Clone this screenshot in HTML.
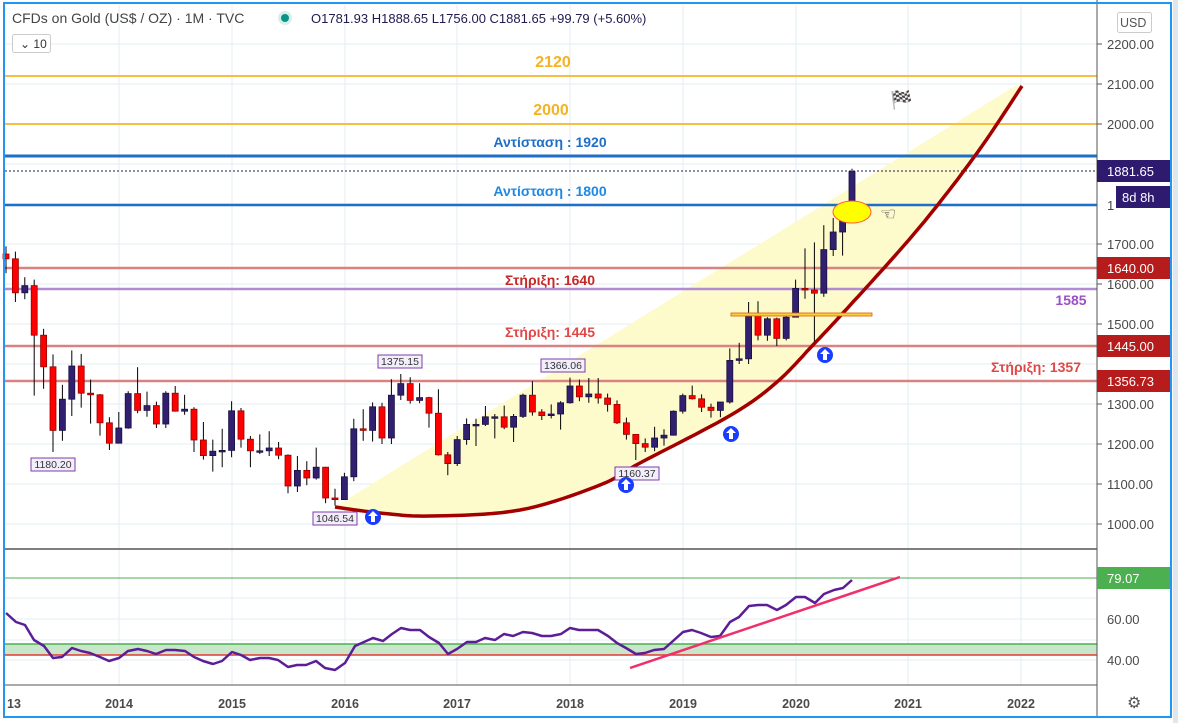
<!DOCTYPE html>
<html><head><meta charset="utf-8"><style>
html,body{margin:0;padding:0;background:#fff;width:1178px;height:723px;overflow:hidden}
svg{display:block;font-family:"Liberation Sans",sans-serif}
</style></head><body>
<svg id="s" width="1178" height="723" viewBox="0 0 1178 723" xmlns="http://www.w3.org/2000/svg">
<rect x="0" y="0" width="1178" height="723" fill="#fff"/>
<g id="grid" stroke="#e3edf3" stroke-width="1"></g>
<polygon id="fill" fill="#fdfacb"/>
<g id="hl"></g>
<g id="candles"></g>
<polyline id="arc" fill="none" stroke="#a30000" stroke-width="3.5" stroke-linejoin="round"/>
<rect x="731" y="313" width="141" height="3" fill="#f7d23a" stroke="#e05a00" stroke-width="0.8"/>
<ellipse cx="852" cy="212" rx="19" ry="11" fill="#ffff00" stroke="#ff5a3a" stroke-width="1"/>
<g id="top"></g>
<line x1="5" y1="549" x2="1097" y2="549" stroke="#555" stroke-width="1.5"/>
<rect x="5" y="644" width="1092" height="11" fill="#c8e6c9"/>
<line x1="5" y1="644" x2="1097" y2="644" stroke="#4caf50" stroke-width="1.5"/>
<line x1="5" y1="655" x2="1097" y2="655" stroke="#e53935" stroke-width="1.5"/>
<line x1="5" y1="578" x2="1097" y2="578" stroke="#4caf50" stroke-width="1"/>
<line x1="5" y1="685" x2="1097" y2="685" stroke="#555" stroke-width="1"/>
<polyline id="rsi" fill="none" stroke="#5b1e96" stroke-width="2.5" stroke-linejoin="round"/>
<line x1="630" y1="668" x2="900" y2="577" stroke="#f0306a" stroke-width="2.5"/>
<line x1="1097" y1="0" x2="1097" y2="717" stroke="#555" stroke-width="1"/>
<g id="axis" font-size="13" fill="#4a4a4a"></g>
<rect x="4" y="3" width="1167" height="714" fill="none" stroke="#2196f3" stroke-width="2"/>
<rect x="1173" y="0" width="5" height="723" fill="#dfe6ec"/>
<text x="12" y="23" font-size="14" fill="#444">CFDs on Gold (US$ / OZ) · 1M · TVC</text>
<circle cx="285" cy="18" r="7" fill="#d6efec"/><circle cx="285" cy="18" r="4" fill="#0b9484"/>
<text x="311" y="23" font-size="13" fill="#1f1a4f">O1781.93  H1888.65  L1756.00  C1881.65  +99.79 (+5.60%)</text>
<rect x="12.5" y="34.5" width="38" height="18" rx="2" fill="#fff" stroke="#ccc"/>
<text x="20" y="48" font-size="12" fill="#333">⌄ 10</text>
<rect x="1117.5" y="12.5" width="34" height="20" rx="2" fill="#fff" stroke="#ccc"/>
<text x="1120" y="27" font-size="12.5" fill="#555">USD</text>
<text x="1127" y="708" font-size="16" fill="#555">⚙</text>
</svg>
<script>
const NS="http://www.w3.org/2000/svg";
function el(p,t,a,txt){const e=document.createElementNS(NS,t);for(const k in a)e.setAttribute(k,a[k]);if(txt!==undefined)e.textContent=txt;document.getElementById(p).appendChild(e);return e;}
const Y=p=>524-(p-1000)*0.4, X=m=>6+m*9.4;
const K=[[335,507],[380,513],[430,516],[520,510],[600,485],[640,463],[731,415],[777,382],[813,345],[843,313],[900,250],[940,202],[982,146],[1022,86]];
let A=[];
for(let i=0;i<K.length-1;i++){const p0=K[Math.max(0,i-1)],p1=K[i],p2=K[i+1],p3=K[Math.min(K.length-1,i+2)];
for(let t=0;t<1;t+=0.1){const t2=t*t,t3=t2*t;
A.push([0.5*((2*p1[0])+(-p0[0]+p2[0])*t+(2*p0[0]-5*p1[0]+4*p2[0]-p3[0])*t2+(-p0[0]+3*p1[0]-3*p2[0]+p3[0])*t3),
0.5*((2*p1[1])+(-p0[1]+p2[1])*t+(2*p0[1]-5*p1[1]+4*p2[1]-p3[1])*t2+(-p0[1]+3*p1[1]-3*p2[1]+p3[1])*t3)]);}}
A.push(K[K.length-1]);
document.getElementById("arc").setAttribute("points",A.map(p=>p[0].toFixed(1)+","+p[1].toFixed(1)).join(" "));
document.getElementById("fill").setAttribute("points","338,505 1015,86 "+A.slice().reverse().map(p=>p[0].toFixed(1)+","+p[1].toFixed(1)).join(" "));
for(let p=1000;p<=2200;p+=100)el("grid","line",{x1:5,x2:1097,y1:Y(p),y2:Y(p)});
[619,660,598,640].forEach(y=>el("grid","line",{x1:5,x2:1097,y1:y,y2:y}));
const yrs=[[119,"2014"],[232,"2015"],[345,"2016"],[457,"2017"],[570,"2018"],[683,"2019"],[796,"2020"],[908,"2021"],[1021,"2022"]];
yrs.forEach(v=>el("grid","line",{x1:v[0],x2:v[0],y1:5,y2:685}));
const L=[[76,"#f6bd47",2],[124,"#f6bd47",2],[156,"#1e6fc8",3],[205,"#1e6fc8",2.5],[268,"#d98282",2.5],[289,"#b38bd0",2.5],[346,"#d98282",2.5],[381,"#d98282",2.5]];
L.forEach(l=>el("hl","line",{x1:5,x2:1097,y1:l[0],y2:l[0],stroke:l[1],"stroke-width":l[2]}));
el("hl","line",{x1:5,x2:1097,y1:171,y2:171,stroke:"#1f1a4f","stroke-width":1,"stroke-dasharray":"2,2"});
const T=[[553,67,"2120","#f5b221",16],[551,115,"2000","#f5b221",16],[550,147,"Αντίσταση : 1920","#1e6fc8",14],[550,196,"Αντίσταση : 1800","#1e88e5",14],[550,285,"Στήριξη: 1640","#c62828",14],[1071,305,"1585","#9c4fc8",14],[550,337,"Στήριξη: 1445","#e04848",14],[1036,372,"Στήριξη: 1357","#e04848",14]];
T.forEach(t=>el("top","text",{x:t[0],y:t[1],"font-size":t[4],"font-weight":"bold",fill:t[3],"text-anchor":"middle"},t[2]));
const D=[[1675,1694,1627,1663],[1663,1681,1555,1578],[1578,1617,1562,1596],[1596,1611,1321,1472],[1472,1488,1338,1393],[1393,1424,1180,1234],[1234,1348,1208,1312],[1312,1434,1270,1395],[1395,1425,1291,1327],[1327,1361,1251,1323],[1323,1325,1221,1253],[1253,1267,1185,1202],
[1202,1280,1202,1240],[1240,1332,1238,1326],[1326,1392,1277,1284],[1284,1331,1268,1296],[1296,1306,1240,1250],[1250,1332,1240,1327],[1327,1345,1281,1282],[1282,1323,1273,1287],[1287,1292,1180,1210],[1210,1255,1161,1171],[1171,1211,1131,1182],[1182,1238,1142,1184],
[1184,1307,1167,1283],[1283,1290,1191,1212],[1212,1220,1142,1183],[1183,1224,1175,1183],[1183,1232,1170,1190],[1190,1205,1162,1172],[1172,1174,1077,1095],[1095,1170,1080,1134],[1134,1157,1097,1115],[1115,1191,1111,1142],[1142,1143,1052,1065],[1065,1088,1046,1061],
[1061,1128,1061,1118],[1118,1263,1107,1238],[1238,1287,1208,1234],[1234,1304,1206,1293],[1293,1303,1200,1215],[1215,1362,1200,1322],[1322,1375,1310,1351],[1351,1367,1301,1309],[1309,1352,1302,1316],[1316,1318,1241,1277],[1277,1337,1171,1173],[1173,1180,1122,1151],
[1151,1220,1145,1211],[1211,1264,1198,1249],[1249,1263,1195,1249],[1249,1295,1245,1268],[1268,1275,1214,1268],[1268,1296,1237,1242],[1242,1275,1205,1269],[1269,1326,1265,1322],[1322,1357,1271,1280],[1280,1287,1260,1271],[1271,1299,1264,1275],[1275,1307,1236,1303],
[1303,1366,1301,1345],[1345,1361,1307,1318],[1318,1365,1303,1325],[1325,1365,1301,1315],[1315,1326,1281,1299],[1299,1309,1250,1253],[1253,1266,1211,1224],[1224,1224,1160,1201],[1201,1214,1180,1192],[1192,1243,1182,1215],[1215,1237,1196,1222],[1222,1284,1221,1282],
[1282,1326,1276,1321],[1321,1346,1311,1313],[1313,1324,1280,1292],[1292,1301,1266,1284],[1284,1305,1267,1305],[1305,1439,1301,1409],[1409,1453,1400,1413],[1413,1555,1400,1520],[1520,1557,1459,1472],[1472,1517,1458,1513],[1513,1516,1445,1464],[1464,1525,1459,1517],
[1517,1611,1517,1589],[1589,1689,1563,1585],[1585,1704,1451,1577],[1577,1747,1568,1686],[1686,1765,1670,1730],[1730,1789,1671,1781],[1781,1888,1756,1881]];
D.forEach((d,i)=>{const x=X(i);const up=d[3]>=d[0];
el("candles","line",{x1:x,x2:x,y1:Y(d[1]),y2:Y(d[2]),stroke:"#000","stroke-width":1});
const t=Y(Math.max(d[0],d[3])),b=Y(Math.min(d[0],d[3]));
el("candles","rect",{x:x-3,y:t,width:6,height:Math.max(1.5,b-t),fill:up?"#31206f":"#ff0000",stroke:up?"#1a1040":"#9b0000","stroke-width":0.8});});
[[53,464,"1180.20"],[335,518,"1046.54"],[400,361,"1375.15"],[563,365,"1366.06"],[637,473,"1160.37"]].forEach(l=>{
el("top","rect",{x:l[0]-22,y:l[1]-6,width:44,height:13,fill:"#f3eefc",stroke:"#7b3fa8","stroke-width":1});
el("top","text",{x:l[0],y:l[1]+4,"font-size":10.5,fill:"#333","text-anchor":"middle"},l[2]);});
[[373,517],[626,485],[731,434],[825,355]].forEach(c=>{
el("top","circle",{cx:c[0],cy:c[1],r:8,fill:"#1a3cff"});
el("top","path",{d:`M${c[0]},${c[1]-6} l5,5 h-3 v6 h-4 v-6 h-3 z`,fill:"#fff"});});
el("top","text",{x:890,y:106,"font-size":18,fill:"#000"},"🏁");
el("top","text",{x:880,y:220,"font-size":18,fill:"#333"},"☜");
const R=[[6,613],[16,622],[25,625],[34,640],[44,646],[53,658],[62,657],[72,648],[81,651],[90,653],[100,657],[109,661],[119,658],[128,651],[138,649],[147,651],[156,654],[166,650],[175,650],[185,651],[194,657],[203,661],[213,664],[222,661],[232,652],[241,655],[250,660],[260,658],[269,658],[278,660],[288,667],[297,665],[306,665],[316,661],[325,668],[335,670],[345,663],[355,646],[364,642],[373,638],[383,641],[392,634],[401,628],[410,630],[420,630],[429,637],[439,643],[448,654],[457,649],[467,642],[476,642],[485,638],[495,640],[504,634],[513,636],[523,632],[532,633],[542,636],[551,636],[561,634],[570,628],[579,630],[589,630],[598,630],[608,636],[617,643],[626,648],[636,654],[645,653],[654,650],[664,649],[673,641],[683,632],[692,630],[701,633],[711,637],[720,636],[730,622],[739,617],[749,606],[758,605],[767,605],[777,610],[786,605],[796,597],[805,597],[815,603],[824,594],[834,590],[843,588],[852,580]];
document.getElementById("rsi").setAttribute("points",R.map(p=>p.join(",")).join(" "));
[2200,2100,2000,1700,1600,1500,1300,1200,1100,1000].forEach(p=>{el("axis","text",{x:1107,y:Y(p)+5},p.toFixed(2));el("axis","line",{x1:1097,x2:1102,y1:Y(p),y2:Y(p),stroke:"#555"});});
el("axis","text",{x:1107,y:624},"60.00");el("axis","text",{x:1107,y:665},"40.00");
yrs.forEach(v=>el("axis","text",{x:v[0],y:708,"text-anchor":"middle","font-weight":"bold","font-size":12.5},v[1]));
el("axis","text",{x:7,y:708,"font-weight":"bold","font-size":12.5},"13");
[[171,"1881.65","#2e1a6f"],[268,"1640.00","#b71c1c"],[346,"1445.00","#b71c1c"],[381,"1356.73","#b71c1c"],[578,"79.07","#4caf50"]].forEach(t=>{
el("axis","rect",{x:1097,y:t[0]-11,width:74,height:22,fill:t[2]});
el("axis","text",{x:1107,y:t[0]+5,fill:"#fff"},t[1]);});
el("axis","rect",{x:1116,y:186,width:55,height:22,fill:"#2e1a6f"});
el("axis","text",{x:1122,y:202,fill:"#fff"},"8d 8h");
el("axis","text",{x:1107,y:210},"1");
</script>
</body></html>
